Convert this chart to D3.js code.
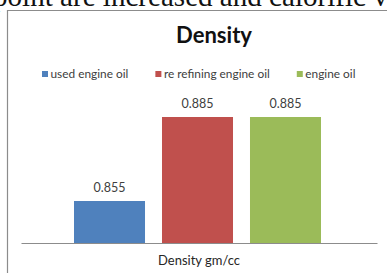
<!DOCTYPE html>
<html>
<head>
<meta charset="utf-8">
<script src="https://cdn.jsdelivr.net/npm/d3@7"></script>
<style>
  html, body { margin: 0; padding: 0; background: #fff; }
  svg { display: block; }
</style>
</head>
<body>
<div id="chart"></div>
<script>
// ---- data ----
const title = "Density";
const category = "Density gm/cc";
const seriesNames = ["used engine oil", "re refining engine oil", "engine oil"];
const seriesValues = [0.855, 0.885, 0.885];
const seriesColors = ["#4F81BD", "#C0504D", "#9BBB59"];
const valueLabels = ["0.855", "0.885", "0.885"];
const yDomain = [0.84, 0.89];
const headerText = "point are increased and calorific v";

// ---- layout ----
const W = 387, H = 273;
const svg = d3.select("#chart").append("svg").attr("width", W).attr("height", H);
const FONT = "Lato, 'Open Sans', sans-serif";

function fitSize(text, family, weight, target, base) {
  const t = svg.append("text").attr("font-family", family).attr("font-weight", weight)
    .attr("font-size", base).text(text);
  const w = t.node().getComputedTextLength();
  t.remove();
  return base * target / w;
}

// surrounding document text (clipped at top, as in the source)
const hs = fitSize(headerText, "'Liberation Serif', 'Times New Roman', serif", "normal", 395, 24);
svg.append("text")
  .attr("x", -7).attr("y", 6)
  .attr("font-family", "'Liberation Serif', 'Times New Roman', serif")
  .attr("font-size", hs).attr("fill", "#111")
  .text(headerText);

// chart frame
svg.append("path")
  .attr("d", `M7.5,${H + 2} V10.5 H${W + 2}`)
  .attr("fill", "none").attr("stroke", "#8c8c8c").attr("stroke-width", 1.2);

// title
const ts = fitSize(title, FONT, "bold", 76, 20);
svg.append("text")
  .attr("x", 214).attr("y", 43).attr("text-anchor", "middle")
  .attr("font-family", FONT).attr("font-weight", "bold").attr("font-size", ts)
  .attr("fill", "#111").text(title);

// legend
const ls = fitSize(seriesNames[0], FONT, "normal", 78, 10);
let lx = 42;
seriesNames.forEach((name, i) => {
  svg.append("rect").attr("x", lx).attr("y", 71).attr("width", 6).attr("height", 6)
    .attr("fill", seriesColors[i]);
  const t = svg.append("text").attr("x", lx + 8.5).attr("y", 77.5)
    .attr("font-family", FONT).attr("font-size", ls).attr("fill", "#404040").text(name);
  lx += 8.5 + t.node().getComputedTextLength() + 27;
});

// scales
const x = d3.scaleBand().domain(seriesNames).range([74, 321]).paddingInner(0.193);
const y = d3.scaleLinear().domain(yDomain).range([243, 103]);

// bars
svg.selectAll("rect.bar").data(seriesValues).enter().append("rect")
  .attr("class", "bar")
  .attr("x", (d, i) => x(seriesNames[i]))
  .attr("width", x.bandwidth())
  .attr("y", d => y(d))
  .attr("height", d => y(yDomain[0]) - y(d))
  .attr("fill", (d, i) => seriesColors[i]);

// value labels
const vs = fitSize("0.885", FONT, "normal", 32, 11);
svg.selectAll("text.val").data(seriesValues).enter().append("text")
  .attr("class", "val")
  .attr("x", (d, i) => x(seriesNames[i]) + x.bandwidth() / 2)
  .attr("y", d => y(d) - 9.5)
  .attr("text-anchor", "middle")
  .attr("font-family", FONT).attr("font-size", vs).attr("fill", "#404040")
  .text((d, i) => valueLabels[i]);

// category axis
const xCat = d3.scaleBand().domain([category]).range([21, 377]);
const axis = svg.append("g").attr("transform", "translate(0,243)")
  .call(d3.axisBottom(xCat).tickSize(0).tickPadding(13));
axis.select(".domain").attr("stroke", "#8c8c8c").attr("stroke-width", 1.2);
const cs = fitSize(category, FONT, "normal", 82, 10);
axis.selectAll(".tick text")
  .attr("font-family", FONT).attr("font-size", cs).attr("fill", "#262626")
  .attr("dy", "0.71em");
</script>
</body>
</html>
